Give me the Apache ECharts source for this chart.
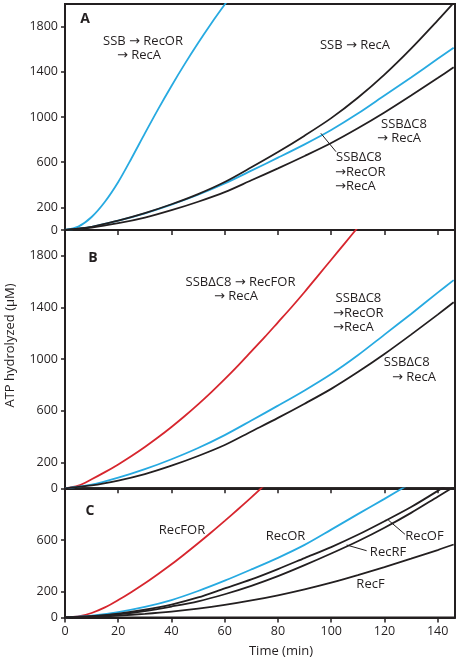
<!DOCTYPE html>
<html><head><meta charset="utf-8">
<script src="https://cdn.jsdelivr.net/npm/echarts@6/dist/echarts.min.js"></script>
<style>html,body{margin:0;padding:0;background:#fff}#c{width:458px;height:660px}</style>
</head><body><div id="c"></div>
<script>
// ---- data ----
const xTicks = [0,20,40,60,80,100,120,140];
const yTicksAB = [0,200,600,1000,1400,1800];
const yTicksC = [0,200,600];

const timeMain = [0,10,20,30,40,50,60,70,80,90,100,110,120,130,140,146];
const timeFastA = [0,5,10,15,20,25,30,35,40,45,50,55,60,65];
const timeRedB = [0,5,10,15,20,25,30,35,40,45,50,55,60,65,70,75,80,85,90,95,100,105,110,115];
const timeRedC = [0,5,10,15,20,25,30,35,40,45,50,55,60,65,70,75];

// Panel A
const ssbRecORRecA = [0,30,115,250,425,635,855,1070,1275,1470,1655,1830,1995,2155];
const ssbRecA      = [0,28,84,150,228,318,425,555,690,835,990,1170,1375,1605,1855,2010];
// Panel A & B (same experiments)
const dc8RecORRecA = [0,28,82,148,225,312,412,525,640,758,885,1030,1190,1350,1515,1612];
const dc8RecA      = [0,22,60,110,175,250,335,440,545,655,770,900,1040,1190,1345,1440];
// Panel B
const dc8RecFORRecA = [0,20,70,125,185,250,320,395,475,560,650,745,845,950,1060,1170,1285,1400,1520,1645,1770,1895,2020,2145];
// Panel C
const recFOR = [0,8,35,78,135,198,265,337,412,492,575,660,748,838,930,1025];
const recOR  = [0,14,42,82,135,205,285,372,462,562,680,800,918,1040,1165,1240];
const recOF  = [0,10,30,60,100,155,225,295,375,460,545,640,745,855,980,1060];
const recRF  = [0,8,25,50,85,125,180,245,320,405,495,590,695,810,935,1010];
const recF   = [0,5,15,28,45,68,97,132,172,218,270,328,390,455,522,565];

// leader lines (data coordinates)
const leaderA  = [[96.1,856],[101.8,693]];
const leaderOF = [[121.4,755],[127.7,644]];
const leaderRF = [[105.8,561],[113.3,517]];

// ---- styling ----
const INK = '#231f20', BLUE = '#27aae1', RED = '#d7262e';
const FONT = '"Open Sans", "DejaVu Sans", sans-serif';
const pair = (t, v) => t.map((x, i) => [x, v[i]]);
const plain = v => String(v);

function xAx(idx, showLabel) {
  return {
    type: 'value', gridIndex: idx, min: 0, max: 146.5,
    axisLine: { show: true, lineStyle: { color: INK, width: 2 } },
    axisTick: { show: true, length: 5, customValues: xTicks, lineStyle: { color: INK, width: 1.5 } },
    axisLabel: { show: showLabel, customValues: xTicks, formatter: plain, color: INK, fontFamily: FONT, fontSize: 12.5, margin: 7 },
    splitLine: { show: false }
  };
}
function yAx(idx, max, ticks) {
  return {
    type: 'value', gridIndex: idx, min: 0, max: max,
    axisLine: { show: true, lineStyle: { color: INK, width: 2 } },
    axisTick: { show: true, length: 4, customValues: ticks, lineStyle: { color: INK, width: 1.5 } },
    axisLabel: { customValues: ticks, formatter: plain, color: INK, fontFamily: FONT, fontSize: 12.5, margin: 7 },
    splitLine: { show: false }
  };
}
function line(name, t, v, g, color, extra) {
  return Object.assign({
    name: name, type: 'line', xAxisIndex: g, yAxisIndex: g,
    data: pair(t, v), showSymbol: false, smooth: 0.3, clip: true,
    lineStyle: { color: color, width: 1.8 }, silent: true, z: color === INK ? 3 : 2
  }, extra || {});
}
function leader(seg) {
  return {
    markLine: {
      silent: true, symbol: ['none', 'none'], label: { show: false },
      lineStyle: { color: INK, width: 1, type: 'solid' },
      data: [[{ coord: seg[0] }, { coord: seg[1] }]]
    }
  };
}
function txt(s, x, y, align, bold, size) {
  return {
    type: 'text', x: x, y: y, silent: true,
    style: { text: s, fill: INK, align: align || 'center', verticalAlign: 'middle',
      font: (bold ? 'bold ' : '') + (size || 13) + 'px ' + FONT }
  };
}

const option = {
  animation: false,
  backgroundColor: '#fff',
  grid: [
    { left: 65, top: 4, width: 390, height: 226, show: true, borderColor: INK, borderWidth: 2 },
    { left: 65, top: 230, width: 390, height: 258.3, show: true, borderColor: INK, borderWidth: 2 },
    { left: 65, top: 488.3, width: 390, height: 129.2, show: true, borderColor: INK, borderWidth: 2 }
  ],
  xAxis: [xAx(0, false), xAx(1, false), xAx(2, true)],
  yAxis: [yAx(0, 2000, yTicksAB), yAx(1, 2000, yTicksAB), yAx(2, 1000, yTicksC)],
  series: [
    line('SSB→RecOR→RecA', timeFastA, ssbRecORRecA, 0, BLUE),
    line('SSBΔC8→RecOR→RecA (A)', timeMain, dc8RecORRecA, 0, BLUE, leader(leaderA)),
    line('SSB→RecA', timeMain, ssbRecA, 0, INK),
    line('SSBΔC8→RecA (A)', timeMain, dc8RecA, 0, INK),
    line('SSBΔC8→RecFOR→RecA', timeRedB, dc8RecFORRecA, 1, RED),
    line('SSBΔC8→RecOR→RecA (B)', timeMain, dc8RecORRecA, 1, BLUE),
    line('SSBΔC8→RecA (B)', timeMain, dc8RecA, 1, INK),
    line('RecFOR', timeRedC, recFOR, 2, RED),
    line('RecOR', timeMain, recOR, 2, BLUE),
    line('RecOF', timeMain, recOF, 2, INK, leader(leaderOF)),
    line('RecRF', timeMain, recRF, 2, INK, leader(leaderRF)),
    line('RecF', timeMain, recF, 2, INK)
  ],
  graphic: [
    txt('A', 85, 19, 'center', true, 14),
    txt('B', 93, 258.5, 'center', true, 14),
    txt('C', 90, 511, 'center', true, 14),
    // panel A
    txt('SSB → RecOR', 143, 41.7),
    txt('→ RecA', 139, 55.5),
    txt('SSB → RecA', 355, 45.7),
    txt('SSBΔC8', 404, 124),
    txt('→ RecA', 399, 138.5),
    txt('SSBΔC8', 336, 157, 'left'),
    txt('→RecOR', 335, 172.5, 'left'),
    txt('→RecA', 335, 186.5, 'left'),
    // panel B
    txt('SSBΔC8 → RecFOR', 240.5, 282.3),
    txt('→ RecA', 236, 296),
    txt('SSBΔC8', 335.5, 298.3, 'left'),
    txt('→RecOR', 333, 313.3, 'left'),
    txt('→RecA', 333, 327.7, 'left'),
    txt('SSBΔC8', 406.7, 362.3),
    txt('→ RecA', 414, 377.3),
    // panel C
    txt('RecFOR', 182, 530.7),
    txt('RecOR', 285.5, 536),
    txt('RecOF', 424.5, 536),
    txt('RecRF', 388, 552.7),
    txt('RecF', 370.5, 584),
    // axis titles
    txt('Time (min)', 281, 651),
    {
      type: 'text', x: 10, y: 345.5, rotation: Math.PI / 2, silent: true,
      style: { text: 'ATP hydrolyzed (μM)', fill: INK, align: 'center', verticalAlign: 'middle',
        font: '13px ' + FONT }
    }
  ]
};

const chart = echarts.init(document.getElementById('c'), null, { renderer: 'canvas' });
chart.setOption(option);
</script>
</body></html>
